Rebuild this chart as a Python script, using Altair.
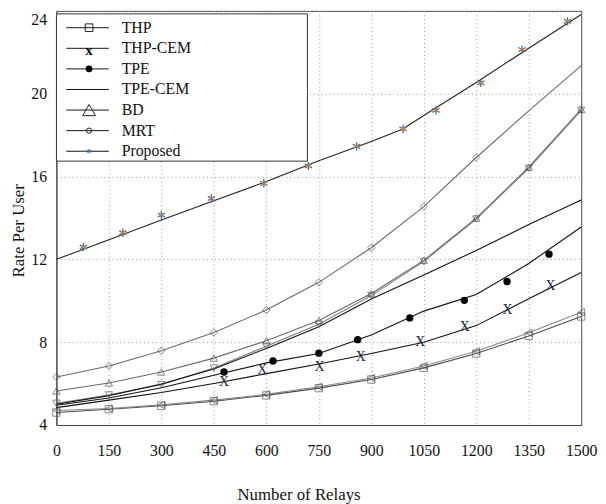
import altair as alt
import pandas as pd

# ---------------- data ----------------
relays = [0, 150, 300, 450, 600, 750, 900, 1050, 1200, 1350, 1500]

mrt = [6.32, 6.85, 7.59, 8.47, 9.55, 10.89, 12.56, 14.55, 16.92, 19.17, 21.36]
bd = [5.64, 6.03, 6.56, 7.23, 8.07, 9.05, 10.35, 11.95, 13.99, 16.45, 19.24]
bd_down = [5.05, 5.45, 5.95, 6.75, 7.80, 8.87, 10.25, 11.90, 13.95, 16.40, 19.20]
tpe_cem = [5.00, 5.42, 5.98, 6.70, 7.70, 8.75, 10.08, 11.24, 12.43, 13.68, 14.87]
tpe_line = [4.95, 5.30, 5.80, 6.40, 7.00, 7.45, 8.35, 9.50, 10.30, 11.80, 13.56]
thp_cem_line = [4.84, 5.20, 5.57, 6.00, 6.48, 6.95, 7.45, 8.00, 8.80, 10.10, 11.37]
thp = [4.60, 4.76, 4.93, 5.15, 5.43, 5.78, 6.20, 6.76, 7.45, 8.30, 9.24]
thp_alt = [4.70, 4.80, 4.97, 5.20, 5.48, 5.85, 6.27, 6.85, 7.56, 8.45, 9.45]

proposed_x = [0, 150, 300, 450, 600, 750, 900, 990, 1050, 1200, 1350, 1500]
proposed = [12.00, 12.95, 13.90, 14.83, 15.76, 16.76, 17.69, 18.30, 18.95, 20.54, 22.20, 23.83]
star_x = [77, 190, 300, 443, 593, 720, 858, 991, 1085, 1213, 1331, 1461]
star_y = [12.59, 13.29, 14.14, 14.94, 15.67, 16.52, 17.46, 18.30, 19.20, 20.52, 22.13, 23.50]

tpe_dot_x = [479, 619, 750, 861, 1010, 1166, 1288, 1408]
tpe_dot_y = [6.56, 7.09, 7.47, 8.12, 9.17, 10.02, 10.93, 12.25]

thp_cem_mark_x = [479, 588, 752, 870, 1040, 1167, 1289, 1412]
thp_cem_mark_y = [6.08, 6.64, 6.80, 7.26, 8.02, 8.75, 9.54, 10.71]

legend_names = ["THP", "THP-CEM", "TPE", "TPE-CEM", "BD", "MRT", "Proposed"]

# ---------------- tables ----------------
grid_series = {
    "MRT": mrt, "BD": bd, "BD2": bd_down, "TPE-CEM": tpe_cem, "TPE": tpe_line,
    "THP-CEM": thp_cem_line, "THP": thp, "THP2": thp_alt,
}
rows = []
for name, vals in grid_series.items():
    for xv, yv in zip(relays, vals):
        rows.append({"series": name, "x": xv, "y": yv})
for xv, yv in zip(proposed_x, proposed):
    rows.append({"series": "Proposed", "x": xv, "y": yv})
lines_df = pd.DataFrame(rows)

marker_series = {"MRT": mrt[:9], "BD": bd, "BD2": bd_down, "THP": thp, "THP2": thp_alt}
mrows = []
for name, vals in marker_series.items():
    for xv, yv in zip(relays, vals):
        mrows.append({"series": name, "x": xv, "y": yv})
markers_df = pd.DataFrame(mrows)

stars_df = pd.DataFrame({"x": star_x, "y": star_y})
dots_df = pd.DataFrame({"x": tpe_dot_x, "y": tpe_dot_y})
xmarks_df = pd.DataFrame({"x": thp_cem_mark_x, "y": thp_cem_mark_y})

line_dom = ["MRT", "BD", "BD2", "TPE-CEM", "TPE", "THP-CEM", "THP", "THP2", "Proposed"]
line_col = ["#6a6a6a", "#6a6a6a", "#7c7c7c", "#111111", "#111111", "#111111", "#4a4a4a", "#8a8a8a", "#222222"]

X = alt.X("x:Q", scale=alt.Scale(domain=[0, 1500], nice=False),
          axis=alt.Axis(values=relays, format="d", title="Number of Relays", grid=True, tickSize=0,
                        labelPadding=18, titlePadding=28, labelFlush=False, titleX=245))
Y = alt.Y("y:Q", scale=alt.Scale(domain=[4, 24], nice=False),
          axis=alt.Axis(values=[4, 8, 12, 16, 20, 24], title="Rate Per User", grid=True,
                        tickSize=0, labelPadding=10, titlePadding=3, labelFlush=False, titleY=222,
                        labelOffset={"condition": {"test": "datum.value == 24", "value": 9}, "value": 0}))

lines = alt.Chart(lines_df).mark_line(strokeWidth=1.1).encode(
    x=X, y=Y, detail="series:N",
    color=alt.Color("series:N", scale=alt.Scale(domain=line_dom, range=line_col), legend=None),
)

markers = alt.Chart(markers_df).mark_point(filled=False, size=55, strokeWidth=1, color="#555555").encode(
    x="x:Q", y="y:Q",
    shape=alt.Shape("series:N", scale=alt.Scale(
        domain=["MRT", "BD", "BD2", "THP", "THP2"],
        range=["diamond", "triangle-up", "triangle-down", "square", "triangle-left"]), legend=None),
)

asterisk = "M0,-1L0,1M-0.87,-0.5L0.87,0.5M-0.87,0.5L0.87,-0.5"
stars_blue = alt.Chart(stars_df).mark_point(shape=asterisk, size=70, strokeWidth=1.3,
                                             color="#2f6db5", filled=False, opacity=1).encode(x="x:Q", y="y:Q")
stars_orange = alt.Chart(stars_df).mark_point(shape="M-0.87,-0.5L0.87,0.5M-0.87,0.5L0.87,-0.5",
                                               size=35, strokeWidth=1.2, color="#d9822b",
                                               filled=False, opacity=1).encode(x="x:Q", y="y:Q")
dots = alt.Chart(dots_df).mark_point(shape="circle", filled=True, size=55, color="#000000",
                                      opacity=1).encode(x="x:Q", y="y:Q")
xmarks = alt.Chart(xmarks_df).mark_text(text="X", font="Liberation Serif", fontSize=14,
                                         color="#1c2340").encode(x="x:Q", y="y:Q")

main = alt.layer(lines, markers, stars_blue, stars_orange, dots, xmarks)

# ---------------- legend (drawn inside the plot, top-left) ----------------
leg_df = pd.DataFrame({"name": legend_names, "row": list(range(len(legend_names)))})
yleg = alt.Y("row:Q", scale=alt.Scale(domain=[0, 6], range=[17, 142]), axis=None)

box = alt.Chart(pd.DataFrame({"k": [0]})).mark_rect(fill="white", stroke="#333333", strokeWidth=1).encode(
    x=alt.value(0), x2=alt.value(254), y=alt.value(3), y2=alt.value(152))
leg_rules = alt.Chart(leg_df).mark_rule(color="#111111", strokeWidth=1).encode(
    x=alt.value(10), x2=alt.value(53), y=yleg)


def leg_point(name, shape, size, filled=False, color="#222222"):
    return alt.Chart(leg_df[leg_df["name"] == name]).mark_point(
        shape=shape, size=size, filled=filled, color=color, strokeWidth=1, opacity=1
    ).encode(x=alt.value(33), y=yleg)


leg_thp = leg_point("THP", "square", 60)
leg_bd = leg_point("BD", "triangle-up", 170)
leg_mrt = leg_point("MRT", "circle", 28)
leg_dot = leg_point("TPE", "circle", 45, filled=True, color="#000000")
leg_star = leg_point("Proposed", asterisk, 22, color="#2f6db5")
leg_x = alt.Chart(leg_df[leg_df["name"] == "THP-CEM"]).mark_text(
    text="x", font="Liberation Serif", fontSize=15, fontWeight="bold", color="#111111", dy=2
).encode(x=alt.value(33), y=yleg)
leg_text = alt.Chart(leg_df).mark_text(align="left", font="Liberation Serif", fontSize=16, color="#111111").encode(
    x=alt.value(66), y=yleg, text="name:N")

legend_layer = alt.layer(box, leg_rules, leg_thp, leg_bd, leg_mrt, leg_dot, leg_star, leg_x, leg_text)

chart = alt.layer(main, legend_layer).resolve_scale(
    y="independent", shape="independent", color="independent"
).properties(
    width=531, height=419,
    padding={"left": 49, "top": 0, "right": 17, "bottom": 77},
    autosize=alt.AutoSizeParams(type="none"),
).configure_view(stroke="#444444", strokeWidth=1).configure_axis(
    labelFont="Liberation Serif", titleFont="Liberation Serif", labelFontSize=16, titleFontSize=17,
    titleFontWeight="normal", labelColor="#111111", titleColor="#111111",
    domainColor="#444444", gridColor="#9a9a9a", gridDash=[1, 3], gridWidth=1,
)

chart.save("out.html", embed_options={"renderer": "svg", "actions": False})
